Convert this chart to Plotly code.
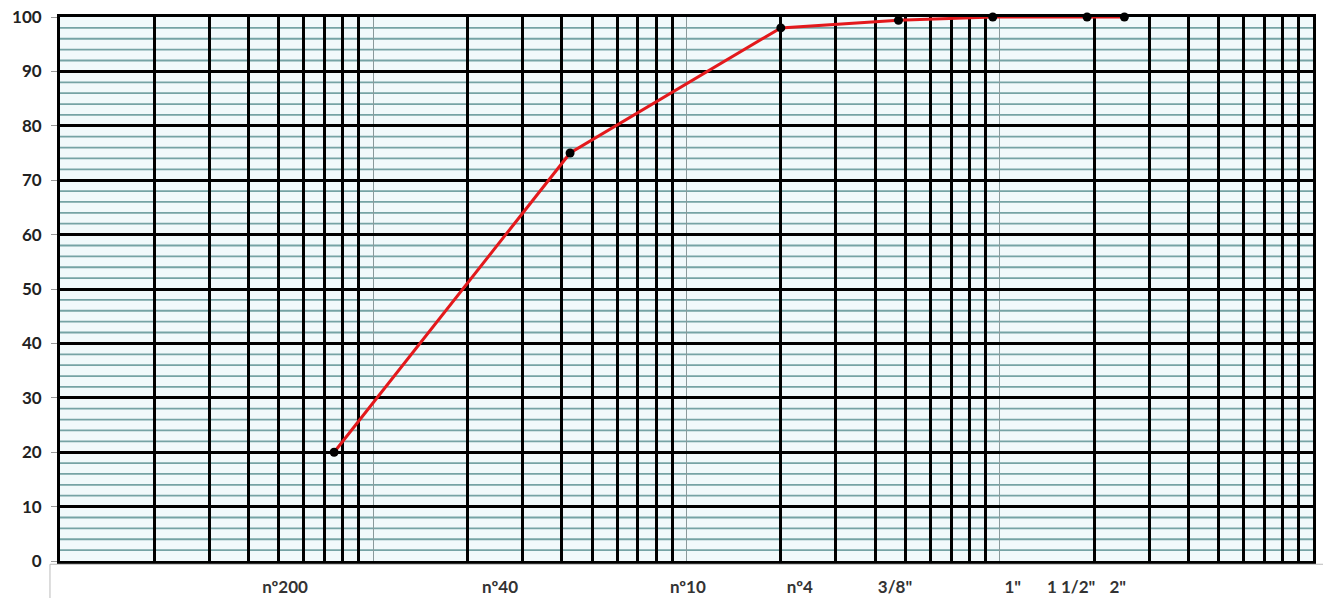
import plotly.graph_objects as go

# Sieve openings (mm) and percent passing
sieve_mm = [0.075, 0.425, 2.0, 4.75, 9.5, 19.0, 25.0]
passing = [20.0, 75.0, 98.0, 99.4, 100.0, 100.0, 100.0]

# Bottom label row (text and where it sits, in mm)
label_text = ["nº200", "nº40", "nº10", "nº4", "3/8\"", "1\"", "1 1/2\"", "2\""]
label_mm = [0.0523, 0.254, 1.01, 2.30, 4.63, 11.0, 16.9, 23.8]

y_ticks = list(range(0, 101, 10))
y_minor = [v for v in range(2, 100, 2) if v % 10]

fig = go.Figure()
fig.add_trace(go.Scatter(
    x=sieve_mm, y=passing, mode="lines+markers",
    line=dict(color="#E3191C", width=3),
    marker=dict(color="black", size=9),
    cliponaxis=False, showlegend=False, hoverinfo="x+y",
))

fig.add_trace(go.Scatter(
    x=label_mm, y=[0] * len(label_mm), xaxis="x2", mode="markers",
    marker=dict(opacity=0), showlegend=False, hoverinfo="skip",
))

shapes = [
    dict(type="line", xref="paper", yref="y", x0=0, x1=1, y0=v, y1=v,
         layer="below", line=dict(color="#76a3a5", width=1.8))
    for v in y_minor
]
shapes += [
    dict(type="line", xref="paper", yref="paper", x0=-0.008, x1=1.008,
         y0=-0.006, y1=-0.006, line=dict(color="#bbbbbb", width=1)),
    dict(type="line", xref="paper", yref="paper", x0=-0.008, x1=-0.008,
         y0=-0.006, y1=-0.07, line=dict(color="#bbbbbb", width=1)),
]

fig.update_layout(
    width=1323, height=598,
    margin=dict(l=60, r=10, t=17, b=37, autoexpand=False),
    paper_bgcolor="white",
    plot_bgcolor="#F1F9FB",
    font=dict(family="Lato", size=14, color="#222222"),
    xaxis=dict(
        type="log", range=[-2, 2], dtick=1,
        showgrid=True, gridcolor="#8a9a9c", gridwidth=1,
        minor=dict(dtick="D1", showgrid=True, gridcolor="black", gridwidth=2.6),
        showticklabels=False, ticks="", zeroline=False,
        showline=True, mirror=True, linecolor="black", linewidth=2.8,
        automargin=False,
    ),
    xaxis2=dict(
        type="log", range=[-2, 2], overlaying="x", side="bottom", anchor="y",
        tickvals=label_mm, ticktext=label_text, showgrid=False, ticks="",
        tickfont=dict(family="Lato", size=17, color="#333333", weight="bold"),
        ticklabelstandoff=14, zeroline=False, showline=False, automargin=False,
        ticklabeloverflow="allow",
    ),
    yaxis=dict(
        range=[0, 100], tickvals=y_ticks,
        showgrid=True, gridcolor="black", gridwidth=2.8,
        ticks="outside", ticklen=6, tickcolor="#999999",
        ticklabelstandoff=6, ticklabeloverflow="allow",
        tickfont=dict(family="Lato", size=17, color="#222222", weight="bold"),
        zeroline=False, showline=True, linecolor="black", linewidth=2.8,
        mirror=True, automargin=False,
    ),
    shapes=shapes,
)

fig.write_html(
    "out.html",
    config={"displayModeBar": False},
    post_script="document.body.style.margin='0';document.body.style.overflow='hidden';",
)
